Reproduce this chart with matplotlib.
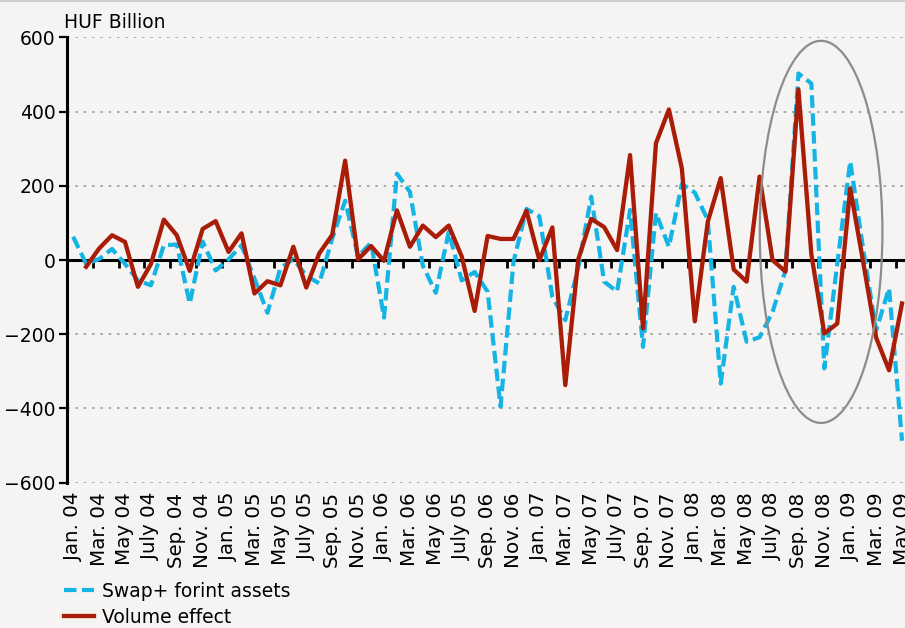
import numpy as np
import matplotlib
matplotlib.use("Agg")
import matplotlib.pyplot as plt
from matplotlib.patches import Ellipse
from matplotlib.lines import Line2D

plt.rcParams['font.family'] = ['DejaVu Sans']

# monthly data, Jan 2004 .. May 2009 (65 months)
swap_forint = [63, -10, 3, 30, -10, -55, -68, 40, 42, -117,
               50, -28, 2, 40, -50, -142, -22, 3, -42, -63,
               58, 160, 10, 47, -155, 233, 184, -15, -88, 76,
               -55, -32, -85, -395, -5, 138, 118, -99, -162, -20,
               171, -58, -85, 135, -234, 127, 36, 205, 182, 108,
               -333, -72, -220, -208, -140, -28, 503, 476, -292, -10,
               266, 30, -190, -76, -487]
volume_effect = [np.nan, -18, 31, 67, 49, -72, -11, 109, 67, -29,
                 84, 105, 22, 72, -90, -57, -68, 36, -74, 18,
                 68, 268, 2, 38, -2, 134, 36, 93, 62, 93,
                 10, -137, 65, 57, 57, 133, 0, 88, -337, 2,
                 111, 89, 27, 283, -184, 315, 406, 247, -165, 103,
                 221, -25, -58, 225, 0, -31, 460, 15, -198, -171,
                 193, -5, -209, -297, -117]
tick_labels = ["Jan. 04", "Mar. 04", "May 04", "July 04", "Sep. 04", "Nov. 04",
               "Jan. 05", "Mar. 05", "May 05", "July 05", "Sep. 05", "Nov. 05",
               "Jan. 06", "Mar. 06", "May 06", "July 05", "Sep. 06", "Nov. 06",
               "Jan. 07", "Mar. 07", "May 07", "July 07", "Sep. 07", "Nov. 07",
               "Jan. 08", "Mar. 08", "May 08", "July 08", "Sep. 08", "Nov. 08",
               "Jan. 09", "Mar. 09", "May 09"]

BG = "#f5f4f2"
CYAN = "#14b4e4"
RED = "#a91d08"
FS = 13.5

fig = plt.figure(figsize=(9.05, 6.28), dpi=100, facecolor=BG)
ax = fig.add_axes([0.0737, 0.2314, 0.9263, 0.7089], facecolor=BG)

x = np.arange(len(swap_forint))
l_swap, = ax.plot(x, swap_forint, color=CYAN, lw=3.0, dashes=(3, 1.3),
                  label="Swap+ forint assets", zorder=3)
l_vol, = ax.plot(x, volume_effect, color=RED, lw=3.1,
                 label="Volume effect", zorder=4)

# circled area (autumn 2008)
ax.add_patch(Ellipse((57.75, 76), width=9.47, height=1030, fill=False,
                     edgecolor="#8c8c8c", lw=1.6, zorder=5))

ax.set_xlim(-0.5, 64.23)
ax.set_ylim(-600, 600)
ax.set_yticks(np.arange(-600, 601, 200))
ax.set_yticklabels([f"{v}".replace("-", "\u2212") for v in range(-600, 601, 200)])
ax.tick_params(axis='y', length=6, width=1.6, pad=2, labelsize=FS)
for v in (-600, -400, -200, 200, 400, 600):
    ax.axhline(v, color="#9a9a9a", lw=1.2, ls=(0, (1.5, 3.5)), zorder=1)

for s in ("top", "right"):
    ax.spines[s].set_visible(False)
ax.spines["left"].set_linewidth(2.2)
ax.spines["bottom"].set_position(("data", 0))
ax.spines["bottom"].set_linewidth(2.2)
ax.spines["bottom"].set_zorder(2)

# tick marks on the zero line, between every second month
ax.set_xticks(np.arange(1.5, 64, 2))
ax.tick_params(axis='x', length=6, width=2, labelbottom=False)

# month labels at the bottom of the plot
sec = ax.secondary_xaxis('bottom')
sec.set_xticks(np.arange(0, 65, 2))
sec.set_xticklabels(tick_labels, rotation=90, fontsize=14.3)
sec.tick_params(length=0, pad=7)
sec.spines['bottom'].set_visible(False)

fig.text(64 / 905, 1 - 22 / 628, "HUF Billion", fontsize=FS, ha='left', va='center')

fig.legend(handles=[l_swap, l_vol], loc='upper left',
           bbox_to_anchor=(64 / 905, 1 - 582 / 628), frameon=False,
           fontsize=FS, handlelength=1.6, handletextpad=0.4,
           labelspacing=0.35, borderpad=0, borderaxespad=0)

fig.add_artist(Line2D([0, 1], [0.999, 0.999], color="#cfcfcf", lw=1.5,
                      transform=fig.transFigure))

fig.savefig("out.png", dpi=100, facecolor=BG)
